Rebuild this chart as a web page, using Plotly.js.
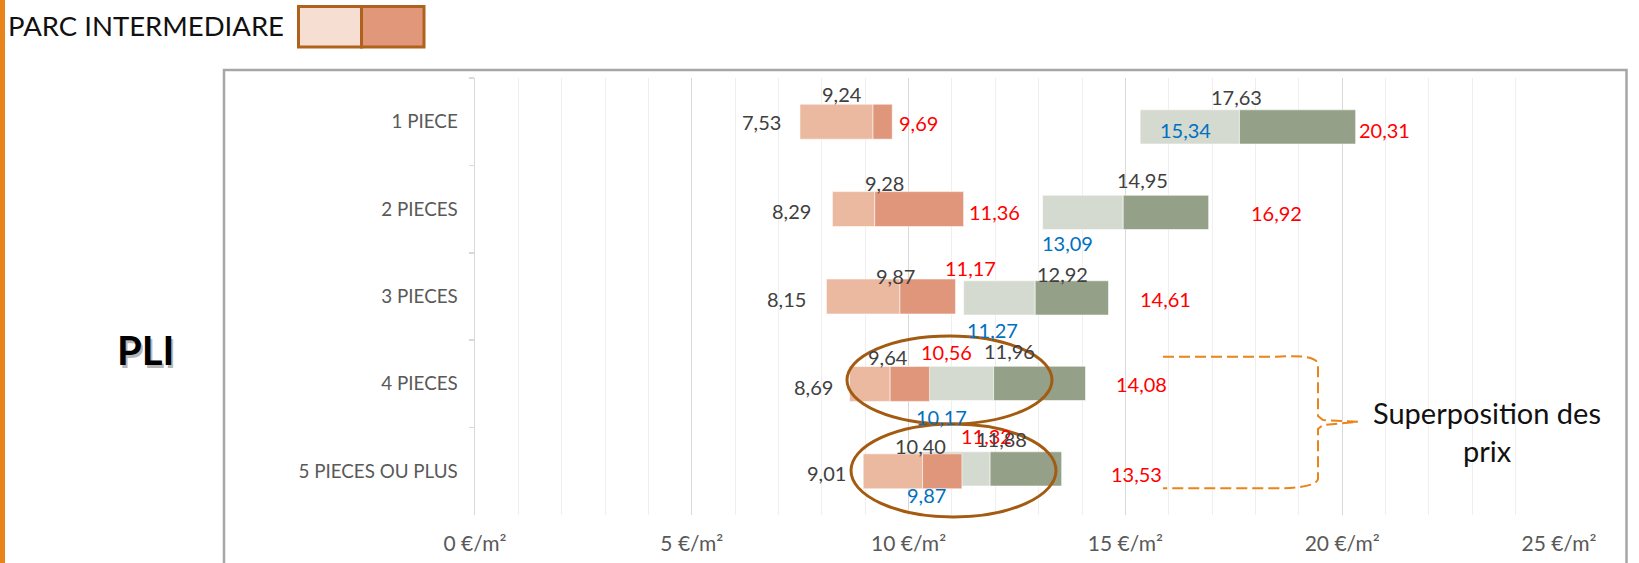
<!DOCTYPE html>
<html>
<head>
<meta charset="utf-8">
<script src="https://cdn.plot.ly/plotly-3.0.1.min.js"></script>
<style>
  html, body { margin: 0; padding: 0; background: #ffffff; }
  #chart { width: 1639px; height: 563px; }
</style>
</head>
<body>
<div id="chart"></div>
<script>
// Rent ranges (€/m²) per dwelling size: low / median / high
const categories = ['1 PIECE', '2 PIECES', '3 PIECES', '4 PIECES', '5 PIECES OU PLUS'];

// Intermediate housing stock (orange bars)
const interMin = [7.53, 8.29, 8.15, 8.69, 9.01];
const interMed = [9.24, 9.28, 9.87, 9.64, 10.40];
const interMax = [9.69, 11.36, 11.17, 10.56, 11.32];

// Private market (green bars)
const privMin = [15.34, 13.09, 11.27, 10.17, 9.87];
const privMed = [17.63, 14.95, 12.92, 11.96, 11.88];
const privMax = [20.31, 16.92, 14.61, 14.08, 13.53];

// x axis ticks
const xTickVals = [0, 5, 10, 15, 20, 25];
const xTickText = ['0 €/m²', '5 €/m²', '10 €/m²', '15 €/m²', '20 €/m²', '25 €/m²'];

// ---- styling / placement ----
const FONT = 'Lato, "Noto Sans", "DejaVu Sans", sans-serif';
const C = {
  interLight: '#EAB9A0', interDark: '#E0967A',
  privLight: '#D4DAD0', privDark: '#94A087',
  legLight: '#F7DED3', legDark: '#E0977A', legEdge: '#B0621C',
  gray: '#404040', axisText: '#595959', red: '#FF0000', blue: '#0070C0',
  orange: '#E8841A', ring: '#A35B12', frame: '#A6A6A6'
};

// label pixel offsets [dx, dy] from the value they state
const interShift = {
  min: [[-38, 0], [-41, -2], [-40, -2], [-36, -3], [-37, -2]],
  med: [[-31, 28], [10, 26], [-4, 21], [-2, 27], [-2, 25]],
  max: [[26, -1], [31, -3], [15, 29], [17, 32], [25, 35]]
};
const privShift = {
  min: [[45, -3], [25, -31], [29, -32], [26, -34], [24, -26]],
  med: [[-3, 30], [19, 32], [27, 24], [16, 32], [11, 30]],
  max: [[29, -3], [68, -1], [57, -1], [56, -1], [75, -5]]
};

// plot area in pixels
const M = { l: 475, r: 80, t: 78, b: 48 };
const W = 1639, H = 563;
const PW = W - M.l - M.r, PH = H - M.t - M.b;
const PX = px => (px - M.l) / PW;
const PY = py => (H - M.b - py) / PH;

const fmt = v => v.toFixed(2).replace('.', ',');
const diff = (a, b) => a.map((v, i) => v - b[i]);
const idx = categories.map((_, i) => i);

const barLine = { color: 'rgba(255,255,255,0.55)', width: 1 };

const traces = [
  // private market, main axes (drawn underneath)
  { type: 'bar', orientation: 'h', xaxis: 'x', yaxis: 'y', y: idx,
    base: privMin, x: diff(privMed, privMin), width: 0.4,
    marker: { color: C.privLight, line: barLine }, hoverinfo: 'skip' },
  { type: 'bar', orientation: 'h', xaxis: 'x', yaxis: 'y', y: idx,
    base: privMed, x: diff(privMax, privMed), width: 0.4,
    marker: { color: C.privDark, line: barLine }, hoverinfo: 'skip' },
  // intermediate stock, secondary axes (drawn on top)
  { type: 'bar', orientation: 'h', xaxis: 'x2', yaxis: 'y2', y: categories,
    base: interMin, x: diff(interMed, interMin), width: 0.4,
    marker: { color: C.interLight, line: barLine }, hoverinfo: 'skip' },
  { type: 'bar', orientation: 'h', xaxis: 'x2', yaxis: 'y2', y: categories,
    base: interMed, x: diff(interMax, interMed), width: 0.4,
    marker: { color: C.interDark, line: barLine }, hoverinfo: 'skip' }
];

const annotations = [];
function valueLabel(v, yv, xref, yref, shift, color) {
  annotations.push({
    x: v, y: yv, xref: xref, yref: yref, text: fmt(v), showarrow: false,
    xanchor: 'center', yanchor: 'middle', xshift: shift[0], yshift: shift[1],
    font: { family: FONT, size: 20, color: color }
  });
}
categories.forEach((c, i) => {
  valueLabel(interMin[i], c, 'x2', 'y2', interShift.min[i], C.gray);
  valueLabel(interMed[i], c, 'x2', 'y2', interShift.med[i], C.gray);
  valueLabel(interMax[i], c, 'x2', 'y2', interShift.max[i], C.red);
});
categories.forEach((c, i) => {
  valueLabel(privMin[i], i, 'x', 'y', privShift.min[i], C.blue);
  valueLabel(privMed[i], i, 'x', 'y', privShift.med[i], C.gray);
  valueLabel(privMax[i], i, 'x', 'y', privShift.max[i], C.red);
});

// title, legend caption, side label, callout text
annotations.push(
  { xref: 'paper', yref: 'paper', x: PX(6), y: PY(26), xanchor: 'left', yanchor: 'middle',
    text: 'PARC INTERMEDIARE', showarrow: false, font: { family: FONT, size: 27.5, color: '#111111' } },
  { xref: 'paper', yref: 'paper', x: PX(147.5), y: PY(352.5), xanchor: 'center', yanchor: 'middle',
    text: '<b>PLI</b>', showarrow: false, font: { family: FONT, size: 40, color: 'rgba(0,0,0,0.28)' } },
  { xref: 'paper', yref: 'paper', x: PX(145), y: PY(350), xanchor: 'center', yanchor: 'middle',
    text: '<b>PLI</b>', showarrow: false, font: { family: FONT, size: 40, color: '#000000' } },
  { xref: 'paper', yref: 'paper', x: PX(1487), y: PY(431), xanchor: 'center', yanchor: 'middle',
    text: 'Superposition des<br>prix', align: 'center', showarrow: false,
    font: { family: FONT, size: 29, color: '#111111' } }
);

// brace path built in pixel space
function path(cmds) {
  return cmds.map(c => c[0] + ' ' + c.slice(1).map((v, k) => (k % 2 === 0 ? PX(v) : PY(v))).join(',')).join(' ');
}
const brace = path([
  ['M', 1163, 356.7], ['L', 1276, 356.7], ['Q', 1316, 354, 1318, 364], ['L', 1318, 416],
  ['L', 1323, 420], ['L', 1358, 421.7], ['L', 1323, 425], ['L', 1318, 429], ['L', 1318, 479],
  ['Q', 1316, 488, 1276, 488.3], ['L', 1163, 488.3]
]);

const shapes = [
  // left accent bar
  { type: 'rect', xref: 'paper', yref: 'paper', x0: PX(0), x1: PX(5), y0: PY(H + 5), y1: PY(-5),
    fillcolor: C.orange, line: { width: 0 }, layer: 'below' },
  // chart frame
  { type: 'rect', xref: 'paper', yref: 'paper', x0: PX(224), x1: PX(1626.5), y0: PY(H + 20), y1: PY(70),
    fillcolor: 'rgba(0,0,0,0)', line: { color: C.frame, width: 2.5 }, layer: 'below' },
  // legend swatches
  { type: 'rect', xref: 'paper', yref: 'paper', x0: PX(298.5), x1: PX(361.5), y0: PY(47), y1: PY(6.5),
    fillcolor: C.legLight, line: { color: C.legEdge, width: 3 } },
  { type: 'rect', xref: 'paper', yref: 'paper', x0: PX(361.5), x1: PX(424), y0: PY(47), y1: PY(6.5),
    fillcolor: C.legDark, line: { color: C.legEdge, width: 3 } },
  // highlight rings
  { type: 'circle', xref: 'paper', yref: 'paper', x0: PX(847), x1: PX(1052), y0: PY(424), y1: PY(336),
    line: { color: C.ring, width: 3 } },
  { type: 'circle', xref: 'paper', yref: 'paper', x0: PX(851), x1: PX(1056), y0: PY(517), y1: PY(424),
    line: { color: C.ring, width: 3 } },
  // brace
  { type: 'path', xref: 'paper', yref: 'paper', path: brace,
    line: { color: C.orange, width: 2, dash: '11px,5px' } }
];

// secondary x axis scale (intermediate series): 0 at 478.2 px, 42.73 px per €/m²
const x2Start = (M.l - 478.2) / 42.73;
const x2End = x2Start + PW / 42.73;
// main y scale for the green series: row centres 126.9 px, 85.5 px apart
const yTop = -(126.9 - M.t) / 85.5;
const yBot = yTop + PH / 85.5;

const layout = {
  width: W, height: H,
  margin: M,
  paper_bgcolor: '#ffffff', plot_bgcolor: '#ffffff',
  showlegend: false,
  barmode: 'overlay',
  font: { family: FONT },
  xaxis: {
    range: [0, 25], tickmode: 'array', tickvals: xTickVals, ticktext: xTickText,
    showgrid: true, gridcolor: '#D9D9D9', gridwidth: 1, zeroline: false, showline: false,
    ticks: '', ticklabelstandoff: 14,
    tickfont: { family: FONT, size: 21, color: C.axisText },
    minor: { tickmode: 'linear', tick0: 0, dtick: 1, showgrid: true, gridcolor: '#EFEFEF', gridwidth: 1 },
    fixedrange: true
  },
  yaxis: {
    range: [yBot, yTop], visible: false, fixedrange: true
  },
  xaxis2: {
    overlaying: 'x', anchor: 'y2', range: [x2Start, x2End], visible: false, fixedrange: true
  },
  yaxis2: {
    overlaying: 'y', anchor: 'x2', side: 'left', type: 'category',
    categoryorder: 'array', categoryarray: categories, range: [4.5, -0.5],
    showgrid: false, zeroline: false, showline: true, linecolor: '#D9D9D9', linewidth: 1.5,
    ticks: 'outside', tickson: 'boundaries', ticklen: 5, tickcolor: '#D9D9D9', tickwidth: 1.5,
    ticklabelstandoff: 12,
    tickfont: { family: FONT, size: 18.8, color: C.axisText },
    fixedrange: true
  },
  shapes: shapes,
  annotations: annotations
};

Plotly.newPlot('chart', traces, layout, { displayModeBar: false, staticPlot: true });
</script>
</body>
</html>
